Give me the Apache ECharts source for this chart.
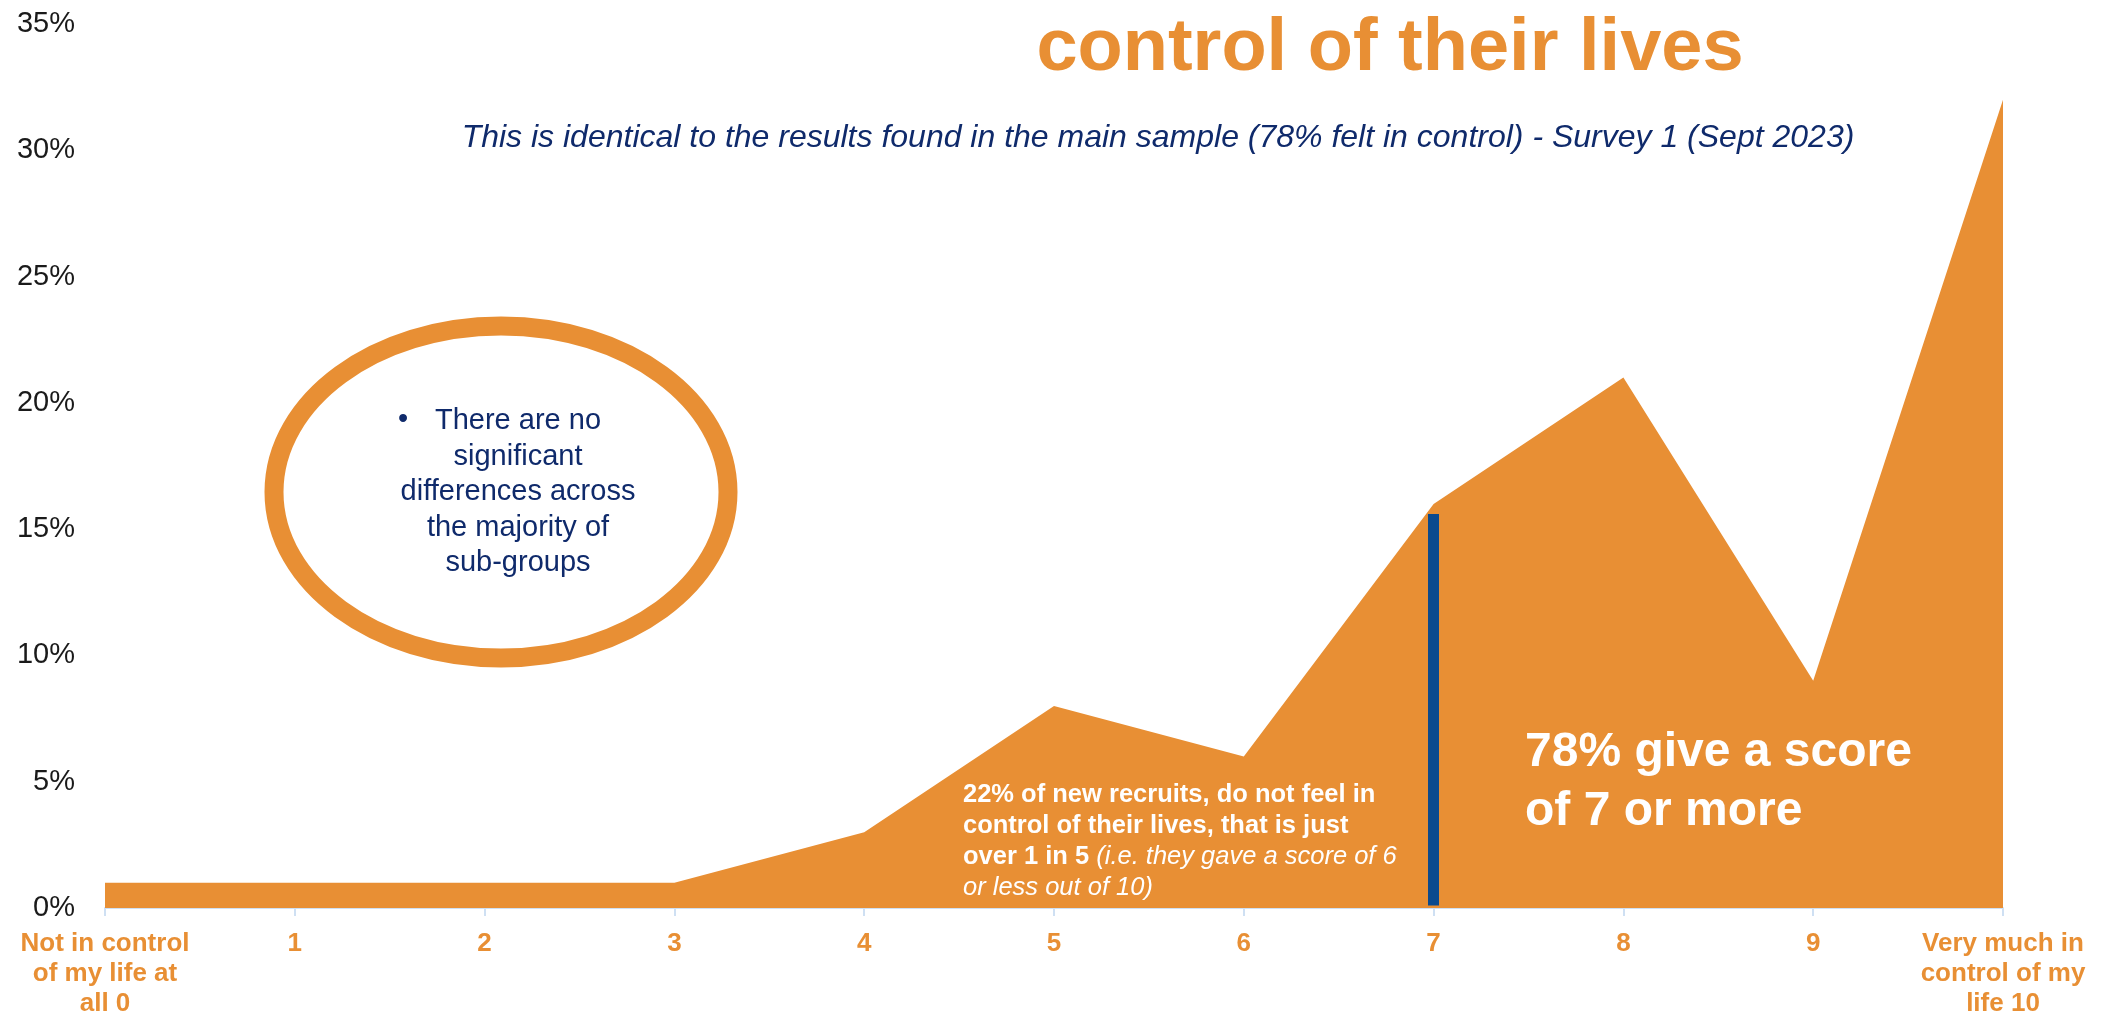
<!DOCTYPE html>
<html>
<head>
<meta charset="utf-8">
<script src="https://cdn.jsdelivr.net/npm/echarts@6/dist/echarts.min.js"></script>
<style>
  html, body { margin: 0; padding: 0; background: #ffffff; }
  #chart { width: 2101px; height: 1023px; }
</style>
</head>
<body>
<div id="chart"></div>
<script>
// Score on a 0-10 scale and share of respondents (%) giving each score
const categories = [
  'Not in control\nof my life at\nall 0', '1', '2', '3', '4', '5', '6', '7', '8', '9',
  'Very much in\ncontrol of my\nlife 10'
];
const shares = [1, 1, 1, 1, 3, 8, 6, 16, 21, 9, 32];

// Y axis range and tick step (%)
const yMin = 0;
const yMax = 35;
const yStep = 5;

// Divider between "6 or less" and "7 or more"
const dividerCategory = categories[7];
const dividerFrom = 0.1;
const dividerTo = 15.6;

const ORANGE = '#E88F34';
const NAVY = '#0F2A6B';
const SANS = '"Liberation Sans", Arial, sans-serif';

const chart = echarts.init(document.getElementById('chart'), null, { renderer: 'canvas' });

chart.setOption({
  animation: false,
  backgroundColor: '#ffffff',
  grid: { left: 105, right: 98, top: 24, bottom: 115, containLabel: false },
  xAxis: {
    type: 'category',
    data: categories,
    boundaryGap: false,
    axisLine: { show: true, lineStyle: { color: '#CFE0F3', width: 2 } },
    axisTick: { show: true, alignWithLabel: true, length: 8, lineStyle: { color: '#CFE0F3', width: 2 } },
    axisLabel: {
      interval: 0,
      margin: 21,
      color: ORANGE,
      fontFamily: SANS,
      fontWeight: 'bold',
      fontSize: 26,
      lineHeight: 30,
      align: 'center'
    },
    splitLine: { show: false }
  },
  yAxis: {
    type: 'value',
    min: yMin,
    max: yMax,
    interval: yStep,
    axisLine: { show: false },
    axisTick: { show: false },
    splitLine: { show: false },
    axisLabel: {
      margin: 30,
      color: '#1a1a1a',
      fontFamily: SANS,
      fontSize: 29,
      formatter: '{value}%'
    }
  },
  series: [{
    type: 'line',
    data: shares,
    symbol: 'none',
    lineStyle: { width: 0, color: ORANGE },
    areaStyle: { color: ORANGE, opacity: 1 },
    z: 2,
    markLine: {
      silent: true,
      symbol: ['none', 'none'],
      label: { show: false },
      lineStyle: { color: '#0B4A8E', width: 11, type: 'solid' },
      data: [[
        { coord: [dividerCategory, dividerFrom] },
        { coord: [dividerCategory, dividerTo] }
      ]]
    }
  }],
  graphic: [
    {
      type: 'text',
      style: {
        text: 'control of their lives',
        x: 1390, y: 50,
        align: 'center', verticalAlign: 'middle',
        fill: ORANGE,
        font: 'bold 74px ' + SANS
      }
    },
    {
      type: 'text',
      style: {
        text: 'This is identical to the results found in the main sample (78% felt in control) - Survey 1 (Sept 2023)',
        x: 1158, y: 138,
        align: 'center', verticalAlign: 'middle',
        fill: NAVY,
        font: 'italic 32px ' + SANS
      }
    },
    {
      type: 'ellipse',
      shape: { cx: 501, cy: 492, rx: 227, ry: 166 },
      style: { fill: '#ffffff', stroke: ORANGE, lineWidth: 19 },
      z: 10
    },
    {
      type: 'text',
      z: 11,
      style: {
        text: '•',
        x: 403, y: 420,
        align: 'center', verticalAlign: 'middle',
        fill: NAVY,
        font: '29px ' + SANS
      }
    },
    {
      type: 'text',
      z: 11,
      style: {
        text: 'There are no\nsignificant\ndifferences across\nthe majority of\nsub-groups',
        x: 518, y: 492,
        align: 'center', verticalAlign: 'middle',
        fill: NAVY,
        fontFamily: SANS,
        fontSize: 29,
        lineHeight: 35.5
      }
    },
    {
      type: 'text',
      z: 11,
      style: {
        text: '{b|22% of new recruits, do not feel in}\n{b|control of their lives, that is just}\n{b|over 1 in 5 }{i|(i.e. they gave a score of 6}\n{i|or less out of 10)}',
        x: 963, y: 779,
        align: 'left', verticalAlign: 'top',
        rich: {
          b: { fill: '#ffffff', fontFamily: SANS, fontWeight: 'bold', fontSize: 25.5, lineHeight: 31 },
          i: { fill: '#ffffff', fontFamily: SANS, fontStyle: 'italic', fontSize: 25.5, lineHeight: 31 }
        }
      }
    },
    {
      type: 'text',
      z: 11,
      style: {
        text: '78% give a score\nof 7 or more',
        x: 1525, y: 723,
        align: 'left', verticalAlign: 'top',
        fill: '#ffffff',
        fontFamily: SANS,
        fontWeight: 'bold',
        fontSize: 48,
        lineHeight: 59
      }
    }
  ]
});
</script>
</body>
</html>
